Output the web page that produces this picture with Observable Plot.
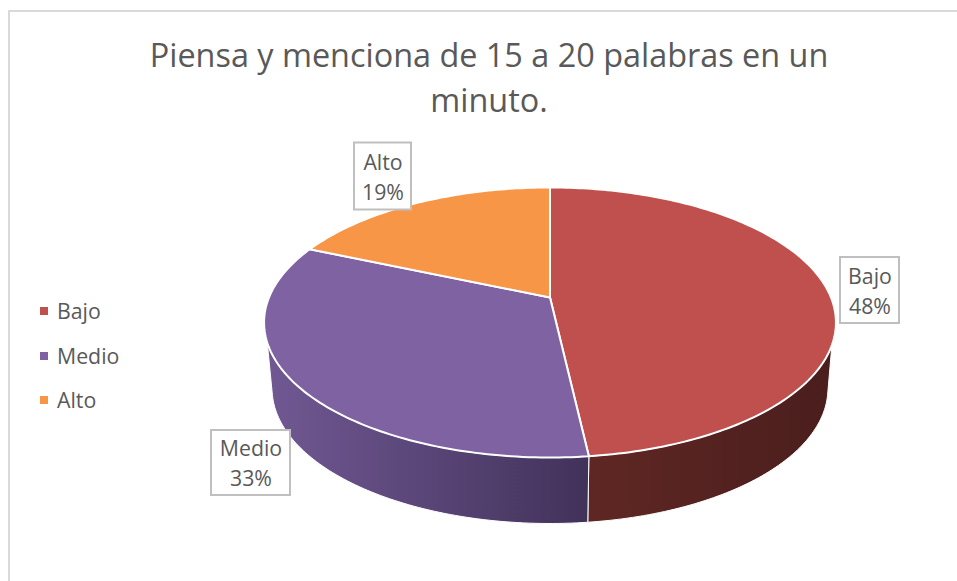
<!DOCTYPE html>
<html><head><meta charset="utf-8">
<script src="https://cdn.jsdelivr.net/npm/d3@7"></script>
<script src="https://cdn.jsdelivr.net/npm/@observablehq/plot@0.6"></script>
<style>
html,body{margin:0;padding:0;background:#fff;}
#root{position:relative;width:957px;height:581px;overflow:hidden;font-family:"Open Sans",sans-serif;color:#595959;}
#frame{position:absolute;left:8px;top:10px;width:960px;height:600px;border:2px solid #d9d9d9;box-sizing:border-box;}
#title{position:absolute;left:0;top:32px;width:978px;text-align:center;font-size:32.4px;line-height:45px;}
#legend{position:absolute;left:40px;top:0;font-size:21.3px;}
#legend div{position:absolute;white-space:nowrap;line-height:24px;}
#legend i{position:absolute;left:0;top:8px;width:8px;height:8px;}
#legend span{position:absolute;left:17px;top:0;}
#chart{position:absolute;left:0;top:0;}
</style></head><body>
<div id="root">
<div id="frame"></div>
<div id="chart"></div>
<div id="title">Piensa y menciona de 15 a 20 palabras en un<br>minuto.</div>
<div id="legend"></div>
</div>
<script>
// Data
const categories = ["Bajo", "Medio", "Alto"];
const shares = [48.2, 33.3, 18.5];
const percentLabels = ["48%", "33%", "19%"];
const colors = ["#c0504d", "#7f62a1", "#f79646"];
const sideDark = [["#5f2723", "#4a1e1d"], ["#715893", "#41325a"]];

// Layout of the tilted disc (perspective map of a unit circle)
const W = 957, H = 581;
const cx = 549.5, cy = 297, ax = 281, by = 130.4, k = 0.185, depth = 66, lowerScale = 0.972;
const project = (deg, lower = false, r = 1) => {
  const t = deg * Math.PI / 180, u = r * Math.sin(t), v = -r * Math.cos(t), w = 1 - k * v;
  return {
    x: cx + (lower ? lowerScale : 1) * ax * u / w,
    y: cy + (lower ? depth : 0) + by * v / w
  };
};
const arc = (a0, a1, lower) => {
  const n = Math.max(2, Math.ceil(Math.abs(a1 - a0)));
  return d3.range(n + 1).map(i => project(a0 + (a1 - a0) * i / n, lower));
};

// Angles from the shares
const total = d3.sum(shares);
let acc = 0;
const slices = categories.map((name, i) => {
  const a0 = acc / total * 360; acc += shares[i]; const a1 = acc / total * 360;
  return {name, a0, a1, color: colors[i]};
});
const topPoly = s => { const p = [{x: cx, y: cy}, ...arc(s.a0, s.a1)]; p.push(p[0]); return p; };

// Visible side walls: front of the rim between right and left tangents
const sideStart = 110, sideEnd = 251, lowStart = 103.5, lowEnd = 256.5;
const sideBajo = (() => {
  const a = slices[0].a1;
  const p = [...arc(sideStart, a), ...arc(a, lowStart, true)]; p.push(p[0]); return p;
})();
const sideMedio = (() => {
  const a = slices[0].a1;
  const p = [...arc(a, sideEnd), ...arc(lowEnd, a, true)]; p.push(p[0]); return p;
})();

// Label boxes (centre, size)
const boxes = [
  {cat: 0, x: 869.5, y: 290, w: 59, h: 66},
  {cat: 1, x: 250.5, y: 462.5, w: 79, h: 65},
  {cat: 2, x: 382.5, y: 176, w: 57, h: 67}
];
const lineRows = boxes.flatMap(b => [
  {x: b.x, y: b.y - 13.5, text: categories[b.cat]},
  {x: b.x, y: b.y + 16.5, text: percentLabels[b.cat]}
]);

const poly = (pts, fill, extra = {}) =>
  Plot.line(pts, {x: "x", y: "y", fill, stroke: "#fff", strokeWidth: 2, curve: "linear", strokeLinejoin: "round", ...extra});

const defs = () => {
  const svg = d3.create("svg:defs");
  sideDark.forEach((pair, i) => {
    const g = svg.append("linearGradient").attr("id", "side" + i);
    g.append("stop").attr("offset", "0%").attr("stop-color", pair[0]);
    g.append("stop").attr("offset", "100%").attr("stop-color", pair[1]);
  });
  return svg.node();
};

const chart = Plot.plot({
  width: W, height: H, margin: 0,
  x: {domain: [0, W], range: [0, W], axis: null},
  y: {domain: [0, H], range: [0, H], axis: null},
  style: {background: "transparent", fontFamily: '"Open Sans", sans-serif'},
  marks: [
    defs,
    poly(sideBajo, "url(#side0)", {strokeWidth: 1}),
    poly(sideMedio, "url(#side1)", {strokeWidth: 1}),
    ...slices.map(s => poly(topPoly(s), s.color)),
    Plot.rect(boxes, {
      x1: b => b.x - b.w / 2, x2: b => b.x + b.w / 2,
      y1: b => b.y - b.h / 2, y2: b => b.y + b.h / 2,
      fill: "#fff", stroke: "#bfbfbf", strokeWidth: 2
    }),
    Plot.text(lineRows, {x: "x", y: "y", text: "text", fill: "#595959", fontSize: 21.3, textAnchor: "middle"})
  ]
});
document.getElementById("chart").appendChild(chart);

// Legend
const legendY = [299, 344, 388];
const legend = document.getElementById("legend");
categories.forEach((c, i) => {
  const row = document.createElement("div");
  row.style.top = legendY[i] + "px";
  row.style.left = "0px";
  row.innerHTML = `<i style="background:${colors[i]}"></i><span>${c}</span>`;
  legend.appendChild(row);
});
</script>
</body></html>
